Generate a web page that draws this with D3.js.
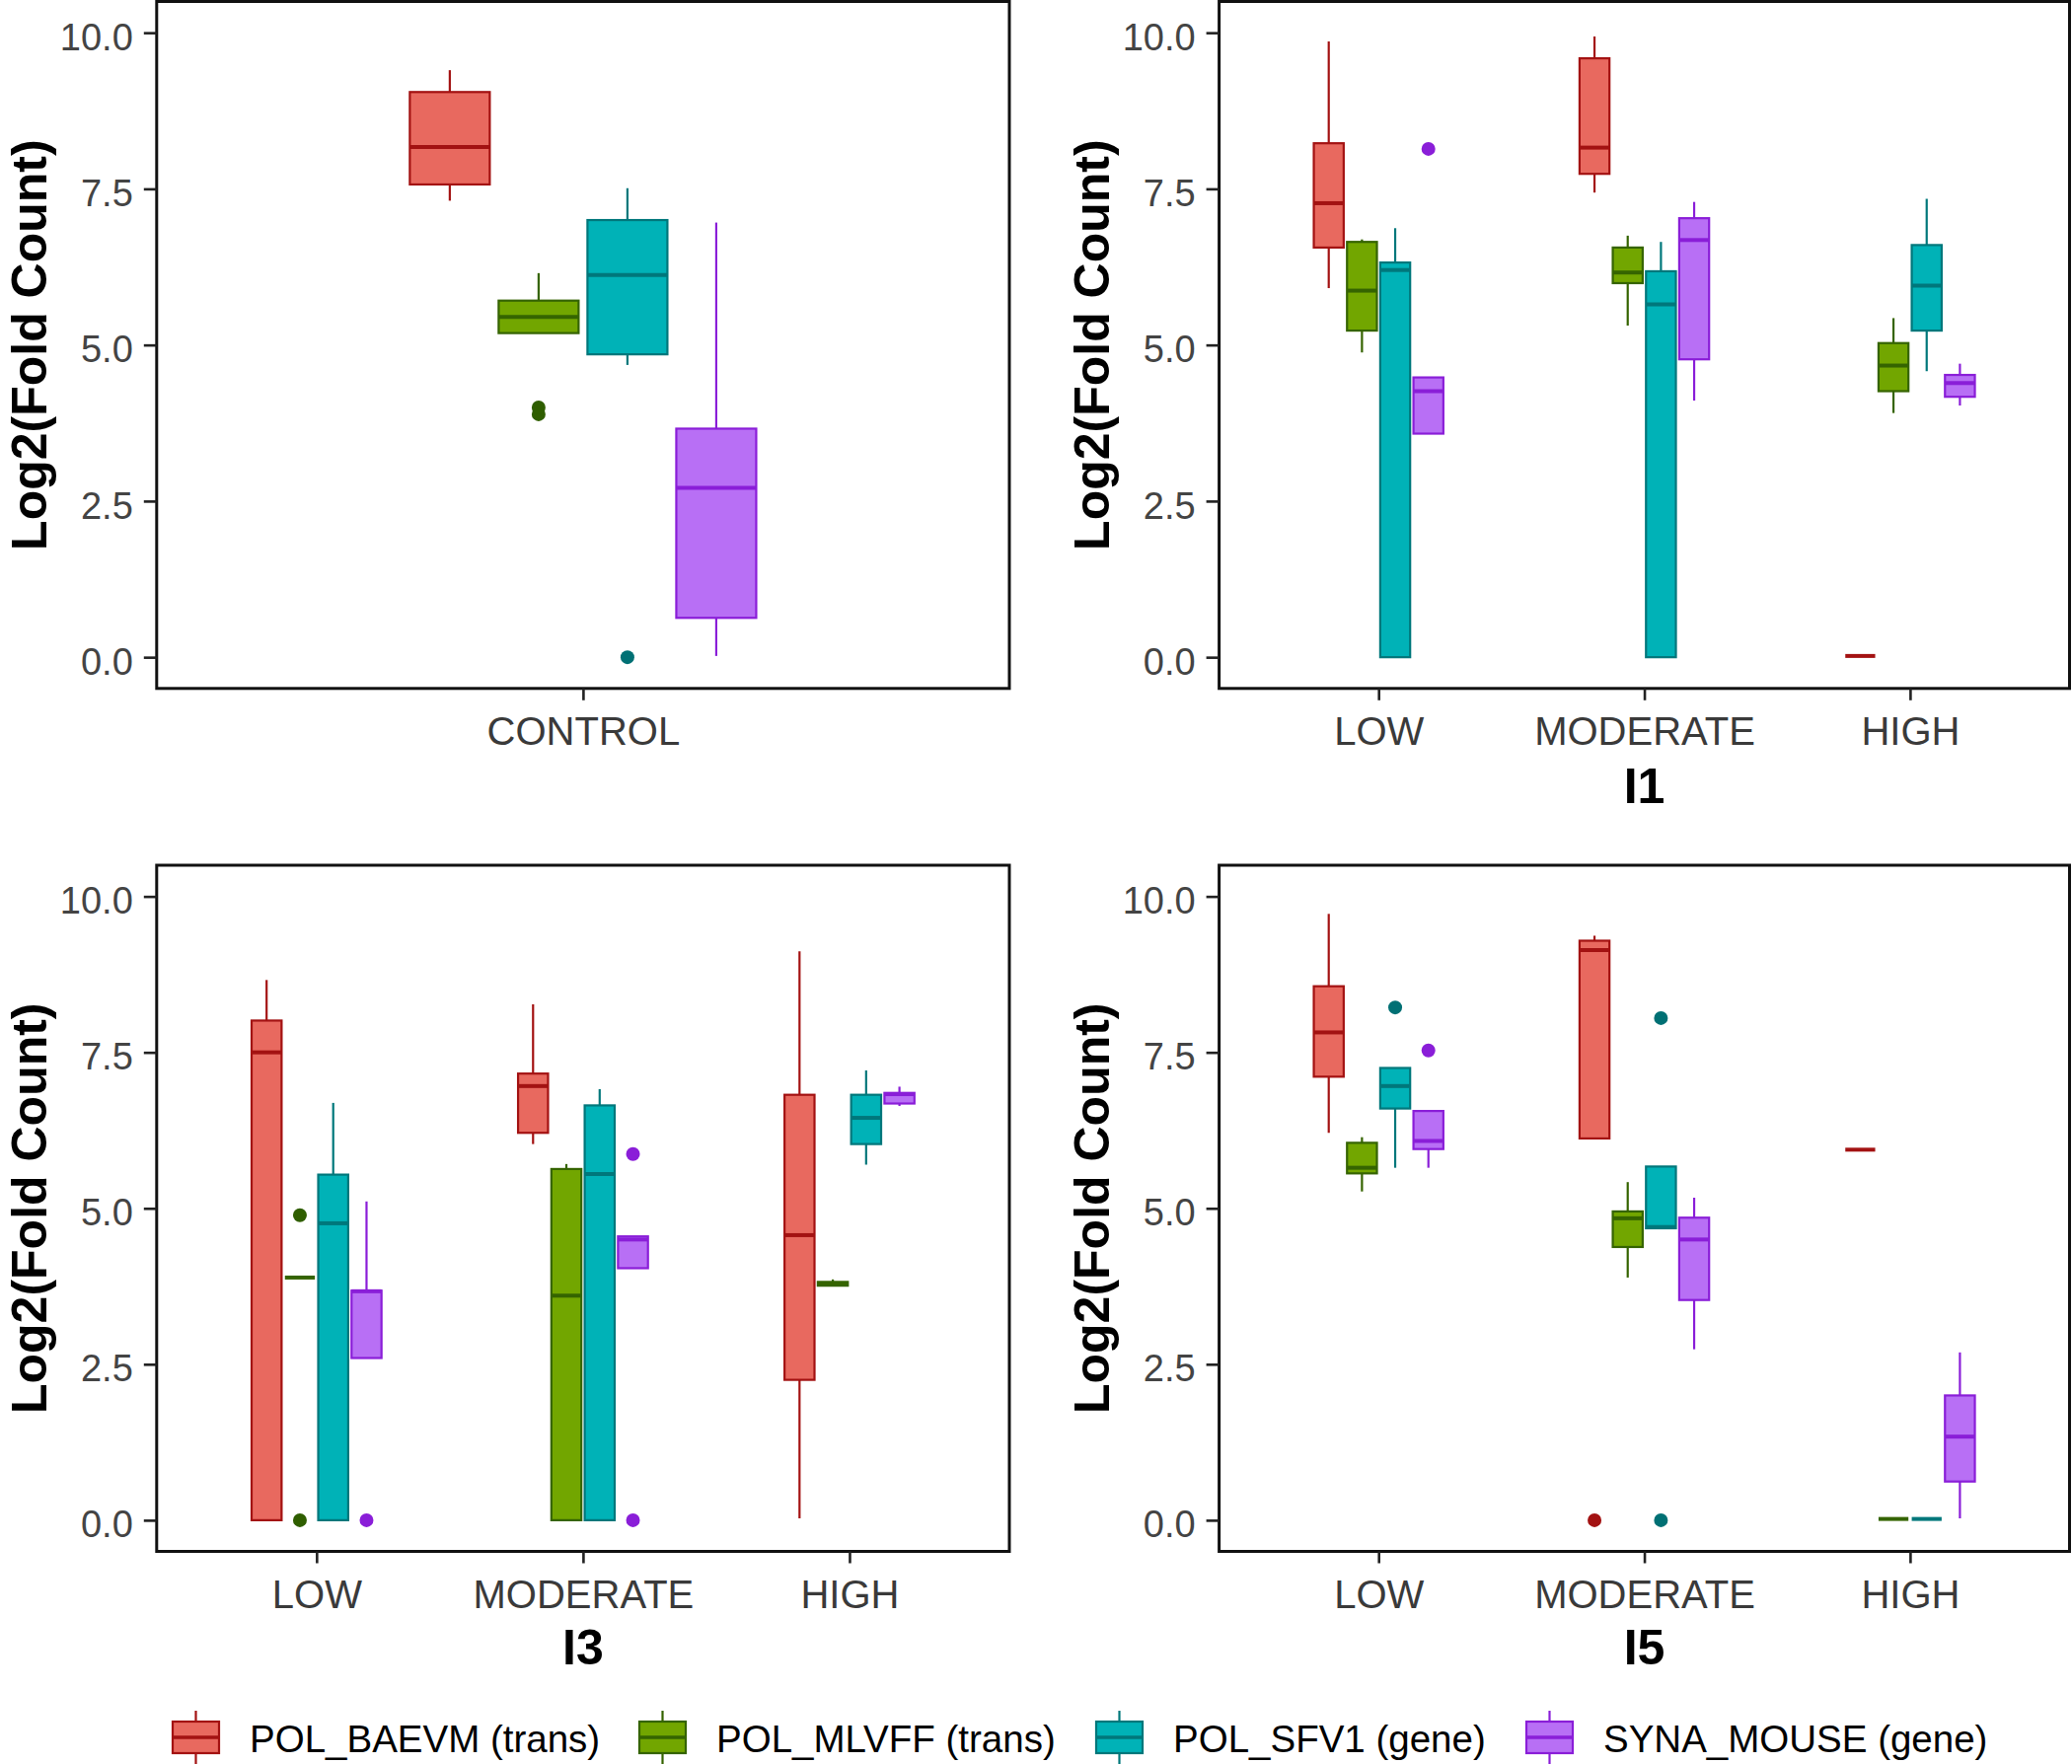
<!DOCTYPE html>
<html><head><meta charset="utf-8">
<script src="https://cdn.jsdelivr.net/npm/d3@7"></script>
<style>
html,body{margin:0;padding:0;background:#fff;}
svg{display:block;font-family:"Liberation Sans",Arial,sans-serif;}
</style></head>
<body>
<svg id="chart" width="2100" height="1788"></svg>
<script>
// ---------- data ----------
const series = ['POL_BAEVM (trans)', 'POL_MLVFF (trans)', 'POL_SFV1 (gene)', 'SYNA_MOUSE (gene)'];
const panelNames = ['CONTROL', 'I1', 'I3', 'I5'];
const controlLevels = ['CONTROL'];
const levels = ['LOW', 'MODERATE', 'HIGH'];
const yTicks = [0, 2.5, 5, 7.5, 10];
// stats per level, per series: [lowerWhisker, q1, median, q3, upperWhisker]
const controlStats = [
  [[7.31,7.57,8.17,9.05,9.40],[5.19,5.19,5.45,5.71,6.15],[4.68,4.85,6.12,7.00,7.51],[0.02,0.63,2.71,3.66,6.96]]
];
const controlOutliers = [[[],[3.89,4.00],[0.0],[]]];
const i1Stats = [
  [[5.91,6.56,7.27,8.23,9.86],[4.88,5.23,5.87,6.65,6.69],[0,0,6.20,6.32,6.87],[3.58,3.58,4.26,4.48,4.48]],
  [[7.44,7.74,8.16,9.59,9.94],[5.31,5.99,6.16,6.56,6.75],[0,0,5.65,6.18,6.65],[4.11,4.77,6.68,7.03,7.29]],
  [[0.02,0.02,0.02,0.02,0.02],[3.91,4.26,4.67,5.03,5.43],[4.58,5.23,5.95,6.60,7.34],[4.03,4.17,4.39,4.52,4.70]]
];
const i1Outliers = [[[],[],[],[8.14]],[[],[],[],[]],[[],[],[],[]]];
const i3Stats = [
  [[0,0,7.50,8.01,8.66],[3.89,3.89,3.89,3.89,3.89],[0,0,4.76,5.54,6.69],[2.60,2.60,3.67,3.68,5.11]],
  [[6.03,6.21,6.96,7.16,8.27],[0,0,3.60,5.63,5.71],[0,0,5.55,6.65,6.91],[4.04,4.04,4.50,4.55,4.55]],
  [[0.03,2.25,4.57,6.82,9.12],[3.76,3.76,3.79,3.82,3.86],[5.70,6.03,6.45,6.82,7.21],[6.64,6.68,6.83,6.85,6.95]]
];
const i3Outliers = [[[],[4.89,0],[],[0]],[[],[],[],[5.87,0]],[[],[],[],[]]];
const i5Stats = [
  [[6.21,7.11,7.82,8.56,9.72],[5.27,5.56,5.65,6.05,6.14],[5.65,6.60,6.96,7.25,7.25],[5.65,5.95,6.08,6.56,6.56]],
  [[6.12,6.12,9.14,9.29,9.37],[3.89,4.38,4.84,4.95,5.42],[4.68,4.68,4.70,5.67,5.67],[2.74,3.53,4.50,4.85,5.17]],
  [[5.94,5.94,5.94,5.94,5.94],[0.02,0.02,0.02,0.02,0.02],[0.02,0.02,0.02,0.02,0.02],[0.03,0.62,1.34,2.00,2.69]]
];
const i5Outliers = [[[],[],[8.22],[7.53]],[[0],[],[8.05,0],[]],[[],[],[],[]]];

// ---------- styles ----------
const fills = ['#E8695F', '#72A600', '#00B2B7', '#B86FF5'];
const strokes = ['#A31212', '#356400', '#00777B', '#8A1ED8'];
const dotColors = ['#A31212', '#2F5E00', '#007074', '#8A1ED8'];
const FONT = '"Liberation Sans",Arial,sans-serif';

const panels = [
  {name: panelNames[0], cats: controlLevels, stats: controlStats, outs: controlOutliers, x0: 158.8, x1: 1023, y0: 1.5, y1: 697.8, title: null, titleY: null},
  {name: panelNames[1], cats: levels, stats: i1Stats, outs: i1Outliers, x0: 1235.6, x1: 2097.5, y0: 1.5, y1: 697.8, title: 'I1', titleY: 814},
  {name: panelNames[2], cats: levels, stats: i3Stats, outs: i3Outliers, x0: 158.8, x1: 1023, y0: 877, y1: 1572.5, title: 'I3', titleY: 1687},
  {name: panelNames[3], cats: levels, stats: i5Stats, outs: i5Outliers, x0: 1235.6, x1: 2097.5, y0: 877, y1: 1572.5, title: 'I5', titleY: 1687}
];

const svg = d3.select('#chart');

panels.forEach(p => {
  const g = svg.append('g');
  const x = d3.scalePoint().domain(p.cats).range([p.x0, p.x1]).padding(0.6);
  const step = x.step();
  const y = d3.scaleLinear().domain([-0.5, 10.5]).range([p.y1, p.y0]);
  const slot = 0.125 * step, bw = 0.1125 * step;

  // boxes
  p.cats.forEach((c, li) => {
    series.forEach((s, si) => {
      const st = p.stats[li][si];
      const cx = x(c) + (si - 1.5) * slot;
      const bg = g.append('g');
      bg.append('line').attr('x1', cx).attr('x2', cx).attr('y1', y(st[3])).attr('y2', y(st[4]))
        .attr('stroke', strokes[si]).attr('stroke-width', 2.2);
      bg.append('line').attr('x1', cx).attr('x2', cx).attr('y1', y(st[0])).attr('y2', y(st[1]))
        .attr('stroke', strokes[si]).attr('stroke-width', 2.2);
      bg.append('rect').attr('x', cx - bw / 2).attr('width', bw)
        .attr('y', y(st[3])).attr('height', Math.max(0, y(st[1]) - y(st[3])))
        .attr('fill', fills[si]).attr('stroke', strokes[si]).attr('stroke-width', 2.2);
      bg.append('line').attr('x1', cx - bw / 2).attr('x2', cx + bw / 2).attr('y1', y(st[2])).attr('y2', y(st[2]))
        .attr('stroke', strokes[si]).attr('stroke-width', 4);
      p.outs[li][si].forEach(v => {
        bg.append('circle').attr('cx', cx).attr('cy', y(v)).attr('r', 7).attr('fill', dotColors[si]);
      });
    });
  });

  // border
  g.append('rect').attr('x', p.x0).attr('y', p.y0).attr('width', p.x1 - p.x0).attr('height', p.y1 - p.y0)
    .attr('fill', 'none').attr('stroke', '#111').attr('stroke-width', 3);

  // y axis
  const ya = g.append('g').attr('transform', `translate(${p.x0},0)`)
    .call(d3.axisLeft(y).tickValues(yTicks).tickSize(13).tickPadding(11).tickFormat(d3.format('.1f')));
  ya.select('.domain').remove();
  ya.selectAll('.tick line').attr('stroke', '#222').attr('stroke-width', 2.6);
  ya.selectAll('.tick text').attr('fill', '#444').attr('font-size', 38).attr('font-family', FONT).attr('dy', '0.45em');

  // x axis
  const xa = g.append('g').attr('transform', `translate(0,${p.y1})`)
    .call(d3.axisBottom(x).tickSize(12).tickPadding(17));
  xa.select('.domain').remove();
  xa.selectAll('.tick line').attr('stroke', '#222').attr('stroke-width', 2.6);
  xa.selectAll('.tick text').attr('fill', '#3a3a3a').attr('font-size', 40).attr('font-family', FONT);

  // y title
  const cy = (p.y0 + p.y1) / 2;
  g.append('text').attr('transform', `translate(${p.x0 - 112},${cy}) rotate(-90)`)
    .attr('text-anchor', 'middle').attr('font-size', 50).attr('font-weight', 'bold')
    .attr('font-family', FONT).attr('fill', '#000').text('Log2(Fold Count)');

  if (p.title) {
    g.append('text').attr('x', (p.x0 + p.x1) / 2).attr('y', p.titleY).attr('text-anchor', 'middle')
      .attr('font-size', 50).attr('font-weight', 'bold').attr('font-family', FONT).attr('fill', '#000').text(p.title);
  }
});

// legend
const legendKeyX = [175, 648, 1111, 1547];
const lg = svg.append('g');
series.forEach((s, i) => {
  const kx = legendKeyX[i], kw = 47, ky = 1745, kh = 32;
  lg.append('line').attr('x1', kx + kw / 2).attr('x2', kx + kw / 2).attr('y1', 1734).attr('y2', 1788)
    .attr('stroke', strokes[i]).attr('stroke-width', 2.2);
  lg.append('rect').attr('x', kx).attr('y', ky).attr('width', kw).attr('height', kh)
    .attr('fill', fills[i]).attr('stroke', strokes[i]).attr('stroke-width', 2.2);
  lg.append('line').attr('x1', kx).attr('x2', kx + kw).attr('y1', ky + kh / 2).attr('y2', ky + kh / 2)
    .attr('stroke', strokes[i]).attr('stroke-width', 3.5);
  lg.append('text').attr('x', kx + 78).attr('y', 1776).attr('font-size', 38.5).attr('font-family', FONT)
    .attr('fill', '#000').text(s);
});
</script>
</body></html>
